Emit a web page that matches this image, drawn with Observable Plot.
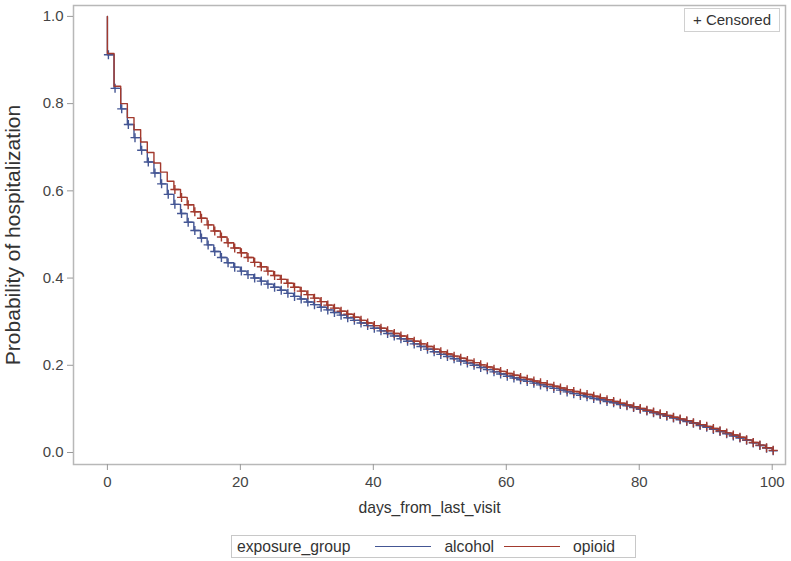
<!DOCTYPE html>
<html>
<head>
<meta charset="utf-8">
<script src="https://cdn.jsdelivr.net/npm/d3@7"></script>
<script src="https://cdn.jsdelivr.net/npm/@observablehq/plot@0.6"></script>
<style>
  body { margin: 0; background: #fff; font-family: "Liberation Sans", Arial, sans-serif; }
  #wrap { position: relative; width: 791px; height: 561px; background: #fff; }
  #censored { position: absolute; left: 684px; top: 8px; width: 94px; height: 22px;
    border: 1px solid #d0d0d0; font-size: 15px; color: #333; line-height: 22px; text-align: center; }
  #legend { position: absolute; left: 231px; top: 535px; width: 403px; height: 21px;
    border: 1px solid #c8c8c8; font-size: 15.7px; color: #333; display: flex; align-items: center; }
  #legend .sw { display: inline-block; width: 56px; height: 0; border-top: 1.5px solid; margin: 0 13px 0 0; }
</style>
</head>
<body>
<div id="wrap">
  <div id="plot"></div>
  <div id="censored">+ Censored</div>
  <div id="legend">
    <span style="margin-left:5px;margin-right:25px">exposure_group</span>
    <span class="sw" style="border-color:#445694"></span><span style="margin-right:10px">alcohol</span>
    <span class="sw" style="border-color:#A23A2E"></span><span>opioid</span>
  </div>
</div>
<script>
// Kaplan-Meier estimates by day since last visit (day 0 .. 100)
const days = d3.range(0, 101);
const alcohol = [
  0.912, 0.835, 0.788, 0.752, 0.722, 0.693, 0.666, 0.641, 0.616, 0.592,
  0.569, 0.548, 0.528, 0.509, 0.492, 0.476, 0.461, 0.447, 0.435, 0.425,
  0.416, 0.408, 0.400, 0.393, 0.386, 0.379, 0.372, 0.365, 0.358, 0.352,
  0.345, 0.339, 0.333, 0.327, 0.321, 0.315, 0.309, 0.303, 0.297, 0.291,
  0.285, 0.279, 0.273, 0.267, 0.261, 0.255, 0.249, 0.243, 0.237, 0.231,
  0.225, 0.220, 0.215, 0.210, 0.205, 0.200, 0.195, 0.190, 0.185, 0.180,
  0.175, 0.171, 0.167, 0.163, 0.159, 0.155, 0.151, 0.147, 0.143, 0.139,
  0.135, 0.131, 0.128, 0.124, 0.121, 0.117, 0.114, 0.110, 0.107, 0.103,
  0.099, 0.095, 0.091, 0.087, 0.083, 0.079, 0.075, 0.071, 0.067, 0.062,
  0.058, 0.053, 0.048, 0.043, 0.038, 0.033, 0.028, 0.022, 0.016, 0.010,
  0.004
];
const opioid = [
  0.915, 0.840, 0.800, 0.768, 0.740, 0.712, 0.688, 0.664, 0.643, 0.622,
  0.603, 0.585, 0.568, 0.552, 0.537, 0.522, 0.508, 0.494, 0.481, 0.469,
  0.458, 0.447, 0.436, 0.426, 0.416, 0.406, 0.397, 0.388, 0.379, 0.370,
  0.362, 0.354, 0.346, 0.338, 0.331, 0.324, 0.317, 0.310, 0.303, 0.297,
  0.291, 0.285, 0.279, 0.273, 0.267, 0.261, 0.255, 0.249, 0.243, 0.237,
  0.231, 0.226, 0.221, 0.216, 0.211, 0.206, 0.201, 0.196, 0.191, 0.186,
  0.181, 0.177, 0.172, 0.168, 0.164, 0.160, 0.156, 0.152, 0.148, 0.144,
  0.140, 0.136, 0.133, 0.129, 0.125, 0.121, 0.117, 0.113, 0.109, 0.105,
  0.101, 0.097, 0.093, 0.089, 0.085, 0.081, 0.077, 0.073, 0.068, 0.064,
  0.060, 0.055, 0.050, 0.045, 0.040, 0.035, 0.029, 0.023, 0.017, 0.011,
  0.005
];
const groups = ["alcohol", "opioid"];
const colors = ["#445694", "#A23A2E"];
const yTicks = [0, 0.2, 0.4, 0.6, 0.8, 1.0];
const xTicks = [0, 20, 40, 60, 80, 100];
const startProb = 1.0;

// step curves start at probability 1 on day 0
function curve(group, values) {
  return [{day: 0, p: startProb, group}, ...days.map((d, i) => ({day: d, p: values[i], group}))];
}
const steps = [...curve("alcohol", alcohol), ...curve("opioid", opioid)];

// censoring marks at each day
const censorA = days.map((d, i) => ({day: d + 0.15, p: alcohol[i], group: "alcohol"}));
const censorO = days.filter(d => d >= 10).map(d => ({day: d + 0.15, p: opioid[d], group: "opioid"}));

const plus = {
  draw(ctx) {
    const r = 4.5;
    ctx.moveTo(-r, 0); ctx.lineTo(r, 0);
    ctx.moveTo(0, -r); ctx.lineTo(0, r);
  }
};

const chart = Plot.plot({
  width: 791,
  height: 525,
  marginLeft: 73,
  marginRight: 6,
  marginTop: 5,
  marginBottom: 61,
  style: {fontFamily: "Liberation Sans, Arial, sans-serif", fontSize: "15px", color: "#444", background: "#fff"},
  x: {domain: [-5.1, 102], label: null},
  y: {domain: [-0.0275, 1.025], label: null},
  color: {domain: groups, range: colors},
  marks: [
    Plot.frame({stroke: "#b8b8b8", strokeWidth: 1.5}),
    Plot.axisY({ticks: yTicks, tickFormat: d3.format(".1f"), tickSize: 6, tickPadding: 4, stroke: "#999", fontSize: 15, label: null}),
    Plot.axisX({ticks: xTicks, tickSize: 6, tickPadding: 6, stroke: "#999", fontSize: 15, label: null}),
    Plot.dot(censorA, {x: "day", y: "p", stroke: "#445694", symbol: plus, fill: "none", strokeWidth: 1.4}),
    Plot.dot(censorO, {x: "day", y: "p", stroke: "#A23A2E", symbol: plus, fill: "none", strokeWidth: 1.4}),
    Plot.line(steps, {x: "day", y: "p", stroke: "group", z: "group", curve: "step-after", strokeWidth: 1.4}),
    Plot.text(["Probability of hospitalization"], {frameAnchor: "left", textAnchor: "middle", dx: -60, rotate: -90, fontSize: 21, fill: "#333"}),
    Plot.text(["days_from_last_visit"], {frameAnchor: "bottom", dy: 48, fontSize: 15.7, fill: "#333"})
  ]
});
document.getElementById("plot").appendChild(chart);
</script>
</body>
</html>
